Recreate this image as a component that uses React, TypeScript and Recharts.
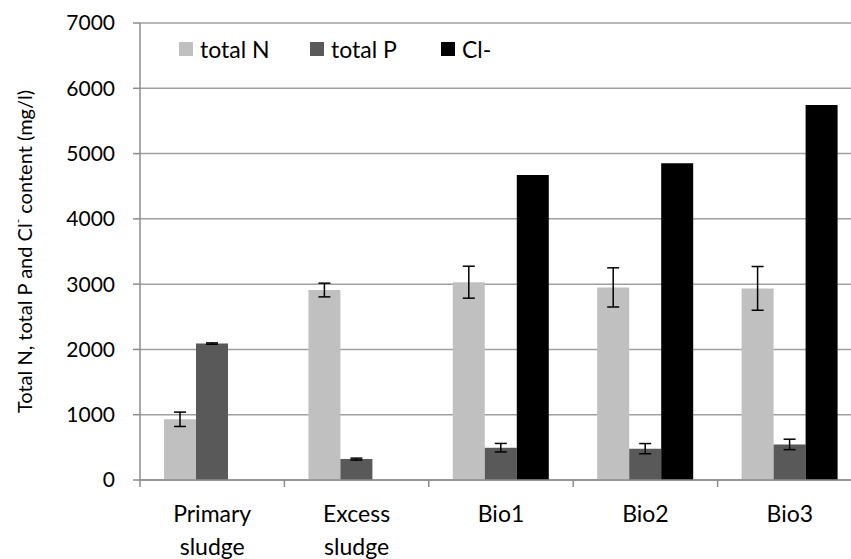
import { BarChart, Bar, XAxis, YAxis, CartesianGrid, ErrorBar } from 'recharts';

const categories = ['Primary sludge', 'Excess sludge', 'Bio1', 'Bio2', 'Bio3'];
const totalN = [930, 2910, 3030, 2950, 2935];
const totalNErr = [110, 105, 245, 300, 335];
const totalP = [2090, 320, 495, 480, 545];
const totalPErr = [10, 15, 65, 78, 80];
const chloride = [null, null, 4670, 4850, 5745];
const yTicks = [0, 1000, 2000, 3000, 4000, 5000, 6000, 7000];

const seriesNames = ['total N', 'total P', 'Cl-'];
const seriesColors = ['#c0c0c0', '#595959', '#000000'];

const FONT = 'Lato, "Open Sans", sans-serif';
const HALF_BAND = 72.2;

const data = categories.map((name, i) => ({
  name,
  n: totalN[i],
  nErr: totalNErr[i],
  p: totalP[i],
  pErr: totalPErr[i],
  cl: chloride[i],
}));

function XTick(props: any) {
  const { x, y, payload, index } = props;
  const lines = String(payload.value).split(' ');
  return (
    <g>
      <line x1={x - HALF_BAND} y1={y} x2={x - HALF_BAND} y2={y + 7} stroke="#8c8c8c" strokeWidth={1.5} />
      {index === categories.length - 1 && (
        <line x1={x + HALF_BAND} y1={y} x2={x + HALF_BAND} y2={y + 7} stroke="#8c8c8c" strokeWidth={1.5} />
      )}
      <text x={x} y={y} textAnchor="middle" fontSize={23} fill="#000" fontFamily={FONT}>
        {lines.map((l, i) => (
          <tspan key={i} x={x} dy={i === 0 ? 42 : 33}>{l}</tspan>
        ))}
      </text>
    </g>
  );
}

function YLabel(props: any) {
  const vb = props.viewBox || { y: 23, height: 457 };
  const cx = 24;
  const cy = vb.y + vb.height / 2;
  return (
    <text x={cx} y={cy} transform={`rotate(-90 ${cx} ${cy})`} textAnchor="middle" dominantBaseline="central"
      fontSize={20} fill="#000" fontFamily={FONT}>
      Total N, total P and Cl<tspan dy={-7} fontSize={12}>-</tspan><tspan dy={7}> content (mg/l)</tspan>
    </text>
  );
}

function LegendBox() {
  return (
    <div style={{ position: 'absolute', left: 179, top: 35, display: 'flex', fontFamily: FONT, fontSize: 23, color: '#000' }}>
      {seriesNames.map((s, i) => (
        <div key={s} style={{ display: 'flex', alignItems: 'center', width: 131 }}>
          <span style={{ display: 'inline-block', width: 14, height: 14, background: seriesColors[i], marginRight: 7 }} />
          <span>{s}</span>
        </div>
      ))}
    </div>
  );
}

export default function App() {
  return (
    <div style={{ position: 'fixed', left: 0, top: 0, width: 851, height: 559, overflow: 'hidden', background: '#fff' }}>
      <BarChart width={880} height={559} data={data} margin={{ top: 23, right: 18, bottom: 0, left: 0 }}
        barSize={32} barGap={0}>
        <CartesianGrid vertical={false} stroke="#a0a0a0" strokeWidth={1.5} />
        <XAxis dataKey="name" height={79} tickSize={0} tickMargin={0} interval={0}
          stroke="#8c8c8c" strokeWidth={1.5} tick={<XTick />} />
        <YAxis width={140} domain={[0, 7000]} ticks={yTicks} tickSize={7} tickMargin={18}
          stroke="#8c8c8c" strokeWidth={1.5} interval={0}
          tick={{ fontSize: 21, fill: '#000', fontFamily: FONT }}
          label={<YLabel />} />
        <Bar dataKey="n" name="total N" fill={seriesColors[0]} isAnimationActive={false}>
          <ErrorBar dataKey="nErr" width={6} stroke="#000" strokeWidth={1.5} />
        </Bar>
        <Bar dataKey="p" name="total P" fill={seriesColors[1]} isAnimationActive={false}>
          <ErrorBar dataKey="pErr" width={6} stroke="#000" strokeWidth={1.5} />
        </Bar>
        <Bar dataKey="cl" name="Cl-" fill={seriesColors[2]} isAnimationActive={false} />
      </BarChart>
      <LegendBox />
    </div>
  );
}
